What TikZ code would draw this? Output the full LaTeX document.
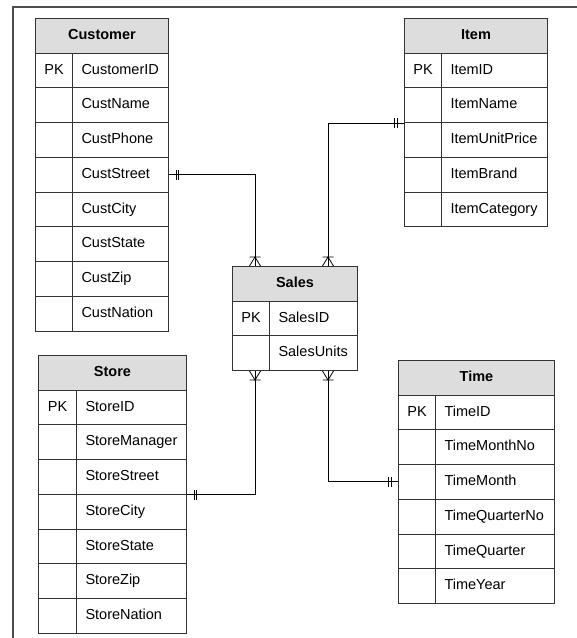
\documentclass[tikz,border=0pt]{standalone}
\usepackage{fontspec}
\setmainfont{Liberation Sans}
\definecolor{hdrgray}{HTML}{DDDDDD}
\definecolor{linegray}{HTML}{333333}
\tikzset{
  cellbase/.style={draw=linegray, line width=1pt, rectangle, inner ysep=0pt, minimum height=34.75pt, text height=10.5pt, text depth=3pt, font=\fontsize{14.5}{17}\selectfont},
  hdr/.style={cellbase, fill=hdrgray, minimum height=34.5pt, inner xsep=0pt, font=\fontsize{14.5}{17}\selectfont\bfseries},
  pkcell/.style={cellbase, inner xsep=0pt},
  fieldcell/.style={cellbase, inner xsep=9pt, align=left},
  conn/.style={draw=black, line width=0.8pt},
  frameline/.style={draw=black!70, line width=1.2pt}
}
\newcommand\ertable[7]{%
  \node[hdr, minimum width=#4pt, anchor=north west] (#1-h) at (#2pt,-#3pt) {#6};
  \foreach \f [count=\i] in {#7} {
    \pgfmathsetmacro\yy{#3+34.5+(\i-1)*34.75}
    \pgfmathsetmacro\tw{#4-#5-18}
    \node[pkcell, minimum width=#5pt, anchor=north west] (#1-pk\i) at (#2pt,-\yy pt) {\ifnum\i=1 PK\fi};
    \node[fieldcell, text width=\tw pt, anchor=north west] (#1-\i) at (#2pt+#5pt,-\yy pt) {\f};
  }%
}
\begin{document}
\begin{tikzpicture}
\useasboundingbox (0,0) rectangle (577pt,-638pt);
% frame
\coordinate (fc) at (13pt,-7pt);
\coordinate (fr) at (577pt,-7pt);
\coordinate (fb) at (13pt,-638pt);
\draw[frameline] (fb) -- (fc) -- (fr);

\ertable{cust}{35}{18}{133}{37}{Customer}{CustomerID,CustName,CustPhone,CustStreet,CustCity,CustState,CustZip,CustNation}
\ertable{item}{404}{18}{143}{37}{Item}{ItemID,ItemName,ItemUnitPrice,ItemBrand,ItemCategory}
\ertable{sales}{232}{266}{125}{37}{Sales}{SalesID,SalesUnits}
\ertable{store}{38}{355}{148}{38}{Store}{StoreID,StoreManager,StoreStreet,StoreCity,StoreState,StoreZip,StoreNation}
\ertable{time}{398}{360}{156}{37}{Time}{TimeID,TimeMonthNo,TimeMonth,TimeQuarterNo,TimeQuarter,TimeYear}

\coordinate (sL) at (255pt,0);
\coordinate (sR) at (328pt,0);

% connectors
\draw[conn] (cust-4.east) -| (sales-h.north -| sL);
\draw[conn] (item-pk2.south west) -| (sales-h.north -| sR);
\draw[conn] (store-3.south east) -| (sales-2.south -| sL);
\draw[conn] (time-pk3.west) -| (sales-2.south -| sR);

% one-mandatory bars
\draw[conn, shift={(cust-4.east)}] (7pt,-5pt) -- (7pt,5pt) (9.5pt,-5pt) -- (9.5pt,5pt);
\draw[conn, shift={(item-pk2.south west)}] (-7pt,-5pt) -- (-7pt,5pt) (-9.5pt,-5pt) -- (-9.5pt,5pt);
\draw[conn, shift={(store-3.south east)}] (7pt,-5pt) -- (7pt,5pt) (9.5pt,-5pt) -- (9.5pt,5pt);
\draw[conn, shift={(time-pk3.west)}] (-7pt,-5pt) -- (-7pt,5pt) (-9.5pt,-5pt) -- (-9.5pt,5pt);

% many-mandatory crow's feet
\draw[conn, shift={(sales-h.north -| sL)}] (-5.5pt,0) -- (0,9pt) -- (5.5pt,0) (-5.5pt,9pt) -- (5.5pt,9pt);
\draw[conn, shift={(sales-h.north -| sR)}] (-5.5pt,0) -- (0,9pt) -- (5.5pt,0) (-5.5pt,9pt) -- (5.5pt,9pt);
\draw[conn, shift={(sales-2.south -| sL)}] (-5.5pt,0) -- (0,-9pt) -- (5.5pt,0) (-5.5pt,-9pt) -- (5.5pt,-9pt);
\draw[conn, shift={(sales-2.south -| sR)}] (-5.5pt,0) -- (0,-9pt) -- (5.5pt,0) (-5.5pt,-9pt) -- (5.5pt,-9pt);
\end{tikzpicture}
\end{document}
